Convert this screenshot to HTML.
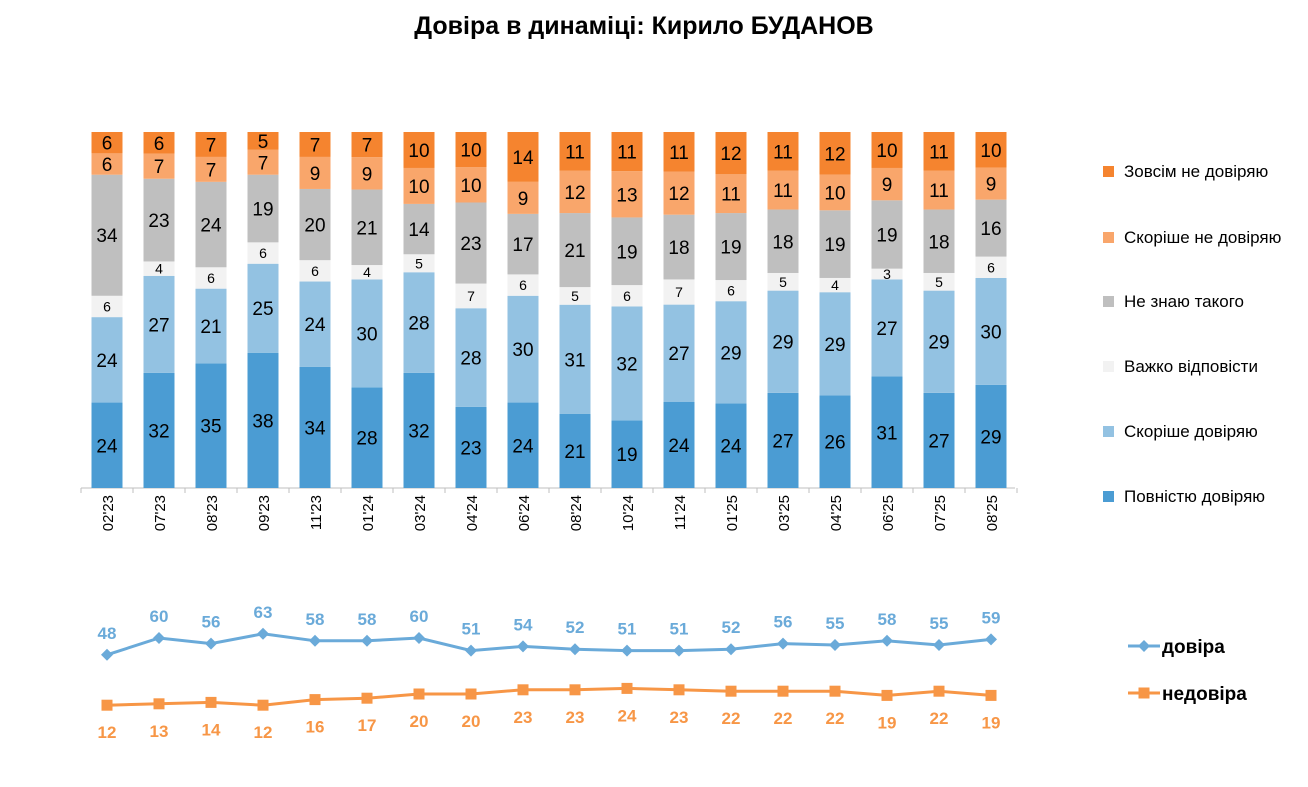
<!DOCTYPE html>
<html><head><meta charset="utf-8">
<style>
html,body{margin:0;padding:0;background:#fff;}
svg{display:block;font-family:"Liberation Sans",Arial,sans-serif;}
</style></head>
<body>
<svg id="chart" width="1308" height="787" viewBox="0 0 1308 787" xmlns="http://www.w3.org/2000/svg">
<text x="644" y="34" text-anchor="middle" font-size="25" font-weight="bold" fill="#000">Довіра в динаміці: Кирило БУДАНОВ</text>
<line x1="81" y1="488" x2="1015" y2="488" stroke="#bfbfbf" stroke-width="1"/>
<g id="bars"></g>
<g id="ticks"></g>
<g id="lines"></g>
<g id="legend"></g>
</svg>
<script>
const categories = ["02'23","07'23","08'23","09'23","11'23","01'24","03'24","04'24","06'24","08'24","10'24","11'24","01'25","03'25","04'25","06'25","07'25","08'25"];
const fullyTrust = [24,32,35,38,34,28,32,23,24,21,19,24,24,27,26,31,27,29];
const ratherTrust = [24,27,21,25,24,30,28,28,30,31,32,27,29,29,29,27,29,30];
const hardToSay = [6,4,6,6,6,4,5,7,6,5,6,7,6,5,4,3,5,6];
const dontKnow = [34,23,24,19,20,21,14,23,17,21,19,18,19,18,19,19,18,16];
const ratherDistrust = [6,7,7,7,9,9,10,10,9,12,13,12,11,11,10,9,11,9];
const fullyDistrust = [6,6,7,5,7,7,10,10,14,11,11,11,12,11,12,10,11,10];
const trustTotal = [48,60,56,63,58,58,60,51,54,52,51,51,52,56,55,58,55,59];
const distrustTotal = [12,13,14,12,16,17,20,20,23,23,24,23,22,22,22,19,22,19];
const seriesNames = ["Повністю довіряю","Скоріше довіряю","Важко відповісти","Не знаю такого","Скоріше не довіряю","Зовсім не довіряю"];

const NS="http://www.w3.org/2000/svg";
const colors=["#4b9cd3","#93c2e2","#f2f2f2","#bfbfbf","#f9a66b","#f5842f"];
const series=[fullyTrust,ratherTrust,hardToSay,dontKnow,ratherDistrust,fullyDistrust];
const x0=107, step=(991-107)/17, barW=31, yTop=132, yBot=488;
const xPos=i=>x0+i*step;
const lineY=v=>722-1.4*v;
function mk(tag,attrs,parent){const e=document.createElementNS(NS,tag);for(const k in attrs)e.setAttribute(k,attrs[k]);parent.appendChild(e);return e;}
const gB=document.getElementById('bars'),gT=document.getElementById('ticks'),gL=document.getElementById('lines'),gG=document.getElementById('legend');
categories.forEach((c,i)=>{
  let tot=0;series.forEach(s=>tot+=s[i]);
  const sc=(yBot-yTop)/tot;
  let y=yBot;
  series.forEach((s,k)=>{
    const h=s[i]*sc;
    const r=mk('rect',{x:xPos(i)-barW/2,y:y-h,width:barW,height:h,fill:colors[k]},gB);
    
    
    const small=(k===2);
    const t=mk('text',{x:xPos(i),y:y-h/2+(small?5:7),'text-anchor':'middle','font-size':small?14:19,fill:'#000'},gB);
    t.textContent=s[i];
    
    
    y-=h;
  });
  mk('line',{x1:xPos(i)+step/2,y1:488,x2:xPos(i)+step/2,y2:493,stroke:'#bfbfbf'},gT);
  const tl=mk('text',{transform:`translate(${xPos(i)+6},495) rotate(-90)`,'text-anchor':'end','font-size':15,fill:'#000'},gT);
  tl.textContent=c;
  
  
});
mk('line',{x1:81,y1:488,x2:81,y2:493,stroke:'#bfbfbf'},gT);
function drawLine(vals,color,marker,labelDy,name){
  const pts=vals.map((v,i)=>xPos(i)+','+lineY(v)).join(' ');
  const pl=mk('polyline',{points:pts,fill:'none',stroke:color,'stroke-width':3},gL);
  
  
  vals.forEach((v,i)=>{
    const x=xPos(i),y=lineY(v);
    let m;
    if(marker==='d') m=mk('polygon',{points:`${x},${y-6} ${x+6},${y} ${x},${y+6} ${x-6},${y}`,fill:color},gL);
    else m=mk('rect',{x:x-5.5,y:y-5.5,width:11,height:11,fill:color},gL);
    
    
    const t=mk('text',{x:x,y:y+labelDy,'text-anchor':'middle','font-size':17,'font-weight':'bold',fill:color},gL);
    t.textContent=v;
    
    
  });
}
drawLine(trustTotal,'#6aaad9','d',-16,'trust');
drawLine(distrustTotal,'#f79646','s',33,'distrust');
const legY=[496,431,366,301,237,171];
seriesNames.forEach((n,k)=>{
  const r=mk('rect',{x:1103,y:legY[k]-5,width:11,height:11,fill:colors[k]},gG);
  
  
  const t=mk('text',{x:1124,y:legY[k]+6,'font-size':17,fill:'#000'},gG);
  t.textContent=n;
  
  
});
[[646,'#6aaad9','d','довіра'],[693,'#f79646','s','недовіра']].forEach(([y,c,m,n])=>{
  mk('line',{x1:1128,y1:y,x2:1160,y2:y,stroke:c,'stroke-width':3},gG);
  let mm;
  if(m==='d') mm=mk('polygon',{points:`1144,${y-6} 1150,${y} 1144,${y+6} 1138,${y}`,fill:c},gG);
  else mm=mk('rect',{x:1138.5,y:y-5.5,width:11,height:11,fill:c},gG);
  
  
  const t=mk('text',{x:1162,y:y+7,'font-size':19,'font-weight':'bold',fill:'#000'},gG);
  t.textContent=n;
  
  
});
</script>
</body></html>
